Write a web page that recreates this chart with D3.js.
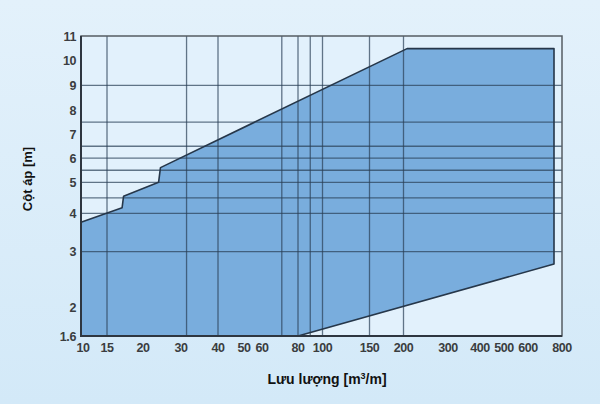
<!DOCTYPE html>
<html>
<head>
<meta charset="utf-8">
<script src="https://cdn.jsdelivr.net/npm/d3@7"></script>
<style>
  html, body { margin: 0; padding: 0; }
  body { width: 600px; height: 404px; overflow: hidden; }
  text { font-family: "Liberation Sans", Arial, sans-serif; }
</style>
</head>
<body>
<div id="chart"></div>
<script>
// axis ticks (chart is not a true log scale, ticks are spaced by hand in the original)
var xTicks = [10, 15, 20, 30, 40, 50, 60, 80, 100, 150, 200, 300, 400, 500, 600, 800];
var yTicks = [1.6, 2, 3, 4, 5, 6, 7, 8, 9, 10, 11];

// grid lines drawn in the original
var xGrid = [15, 31.5, 40, 71, 80, 90, 100, 150, 200];
var yGrid = [9, 7.5, 6.5, 6, 5.5, 5, 4.5, 4, 3];

// operating range outline: flow (m3/h) and head (m)
var flow = [10, 10, 17.1, 17.3, 24.1, 24.6, 208, 753, 753, 80];
var head = [1.6, 3.77, 4.18, 4.55, 5.0, 5.61, 10.49, 10.49, 2.78, 1.6];

var W = 600, H = 404;
var padL = 81, padT = 36, plotW = 481, plotH = 300;

// relative tick spacing of the printed axes
var xFrac = [0, 26, 62, 100, 137, 163, 181, 217, 241.5, 288.5, 322.5, 367, 399, 423, 447, 481];
var yFrac = [300, 271.7, 215.7, 177.3, 146.3, 122.2, 98.3, 74, 49.4, 24.7, 0];

var x = d3.scaleLinear().domain(xTicks).range(xFrac.map(function (d) { return padL + d; }));
var y = d3.scaleLinear().domain(yTicks).range(yFrac.map(function (d) { return padT + d; }));

var svg = d3.select('#chart').append('svg')
    .attr('width', W)
    .attr('height', H);

var grad = svg.append('defs').append('linearGradient')
    .attr('id', 'bg')
    .attr('x1', 0).attr('y1', 0).attr('x2', 0).attr('y2', 1);
grad.append('stop').attr('offset', '0%').attr('stop-color', '#e3f1fb');
grad.append('stop').attr('offset', '100%').attr('stop-color', '#d3e9f8');

svg.append('rect')
    .attr('width', W).attr('height', H)
    .style('fill', 'url(#bg)');

// plot area
svg.append('rect')
    .attr('x', padL).attr('y', padT)
    .attr('width', plotW).attr('height', plotH)
    .style('fill', '#e2f1fc');

// filled region
var pts = flow.map(function (d, i) { return [x(d), y(head[i])]; });
svg.append('path')
    .attr('d', d3.line()(pts) + 'Z')
    .style('fill', '#79addd')
    .style('stroke', 'none');

// grid
svg.selectAll('.gx')
    .data(xGrid)
    .enter().append('line')
    .attr('class', 'gx')
    .attr('x1', function (d) { return x(d); })
    .attr('x2', function (d) { return x(d); })
    .attr('y1', padT)
    .attr('y2', padT + plotH)
    .style('stroke', '#2a3f55')
    .style('stroke-opacity', 0.7)
    .style('stroke-width', 1.3);

svg.selectAll('.gy')
    .data(yGrid)
    .enter().append('line')
    .attr('class', 'gy')
    .attr('x1', padL)
    .attr('x2', padL + plotW)
    .attr('y1', function (d) { return y(d); })
    .attr('y2', function (d) { return y(d); })
    .style('stroke', '#2a3f55')
    .style('stroke-opacity', 0.7)
    .style('stroke-width', 1.3);

// outline of the region
svg.append('path')
    .attr('d', d3.line()(pts))
    .style('fill', 'none')
    .style('stroke', '#26374a')
    .style('stroke-width', 1.6)
    .style('stroke-linejoin', 'round');

// frame
svg.append('rect')
    .attr('x', padL).attr('y', padT)
    .attr('width', plotW).attr('height', plotH)
    .style('fill', 'none')
    .style('stroke', '#555c63')
    .style('stroke-width', 1.5);

svg.append('path')
    .attr('d', 'M' + padL + ',' + padT + 'V' + (padT + plotH) + 'H' + (padL + plotW))
    .style('fill', 'none')
    .style('stroke', '#2e3640')
    .style('stroke-width', 2);

// tick labels
svg.selectAll('.xl')
    .data(xTicks)
    .enter().append('text')
    .attr('class', 'xl')
    .attr('x', function (d) { return x(d) + (d === 10 ? 2 : 0); })
    .attr('y', padT + plotH + 16)
    .attr('text-anchor', 'middle')
    .style('font-size', '12.5px')
    .style('font-weight', 'bold')
    .style('letter-spacing', '-0.4px')
    .style('fill', '#3a3d40')
    .text(function (d) { return d; });

svg.selectAll('.yl')
    .data(yTicks)
    .enter().append('text')
    .attr('class', 'yl')
    .attr('x', padL - 5)
    .attr('y', function (d) { return y(d) + 4.5; })
    .attr('text-anchor', 'end')
    .style('font-size', '12.5px')
    .style('font-weight', 'bold')
    .style('letter-spacing', '-0.4px')
    .style('fill', '#3a3d40')
    .text(function (d) { return d; });

// axis titles
var xt = svg.append('text')
    .attr('x', 327)
    .attr('y', 384)
    .attr('text-anchor', 'middle')
    .style('font-size', '14px')
    .style('font-weight', 'bold')
    .style('fill', '#111');
xt.append('tspan').text('Lưu lượng [m');
xt.append('tspan').attr('dy', -5).style('font-size', '9px').text('3');
xt.append('tspan').attr('dy', 5).text('/m]');

svg.append('text')
    .attr('transform', 'translate(32,179) rotate(-90)')
    .attr('text-anchor', 'middle')
    .style('font-size', '13px')
    .style('font-weight', 'bold')
    .style('fill', '#111')
    .text('Cột áp [m]');
</script>
</body>
</html>
